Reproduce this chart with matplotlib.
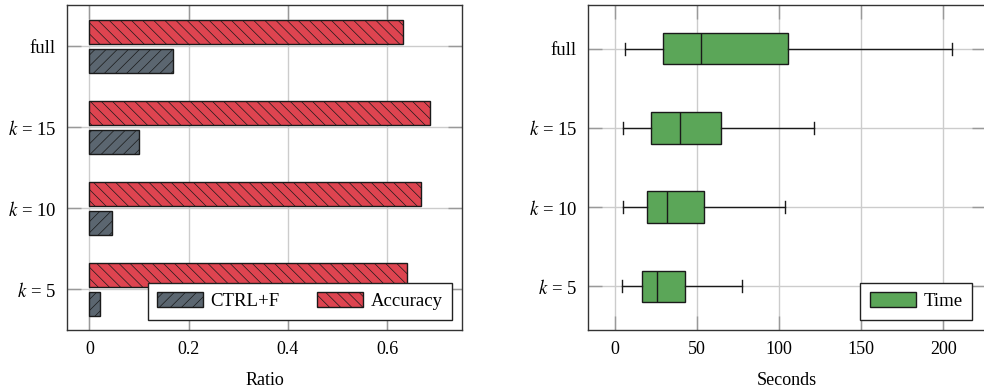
import numpy as np
import matplotlib
matplotlib.use("Agg")
import matplotlib.pyplot as plt
from matplotlib.patches import Patch

plt.rcParams['font.family'] = ['Liberation Serif', 'DejaVu Serif']
plt.rcParams['mathtext.fontset'] = 'stix'
plt.rcParams['font.size'] = 13
plt.rcParams['hatch.linewidth'] = 0.5

# categories bottom -> top
categories = ['$k$ = 5', '$k$ = 10', '$k$ = 15', 'full']

# left panel
ctrlf = [0.021, 0.046, 0.099, 0.169]
accuracy = [0.640, 0.667, 0.685, 0.632]

# right panel: time box stats (seconds)
t_low = [3.9, 4.7, 5.1, 6.1]
t_q1 = [16.5, 19.5, 22.0, 28.9]
t_med = [25.8, 31.9, 39.7, 52.1]
t_q3 = [42.7, 53.9, 64.3, 105.4]
t_high = [77.4, 103.8, 121.1, 205.3]

red = '#de4450'
gray = '#5b6670'
green = '#5ba658'
edge = '#1a1a1a'

fig = plt.figure(figsize=(9.84, 3.9), dpi=100)
ax1 = fig.add_axes([0.0681, 0.1538, 0.4017, 0.8333])
ax2 = fig.add_axes([0.5976, 0.1538, 0.4044, 0.8333])

def style(ax):
    ax.grid(True, color='#cccccc', linewidth=1.0)
    ax.set_axisbelow(True)
    for s in ax.spines.values():
        s.set_color('#333333')
        s.set_linewidth(1.0)
    ax.tick_params(direction='in', length=10, width=1.0, color='#999999',
                   left=True, right=True, top=True, bottom=True, pad=8)
    ax.tick_params(axis='y', labelsize=13.5)

y = np.arange(len(categories))

# left: bars
ax1.barh(y + 0.18, accuracy, height=0.3, color=red, edgecolor=edge,
         hatch='\\\\\\', linewidth=1.0, label='Accuracy')
ax1.barh(y - 0.18, ctrlf, height=0.3, color=gray, edgecolor=edge,
         hatch='///', linewidth=1.0, label='CTRL+F')
ax1.set_xlim(-0.045, 0.751)
ax1.set_ylim(-0.5, 3.51)
ax1.set_xticks([0, 0.2, 0.4, 0.6])
ax1.set_xticklabels(['0', '0.2', '0.4', '0.6'])
ax1.set_yticks(y)
ax1.set_yticklabels(categories)
ax1.set_xlabel('Ratio', labelpad=10)
style(ax1)
h = [Patch(facecolor=gray, edgecolor=edge, hatch='///', label='CTRL+F'),
     Patch(facecolor=red, edgecolor=edge, hatch='\\\\\\', label='Accuracy')]
leg = ax1.legend(handles=h, loc='lower right', ncol=2, fancybox=False,
                 framealpha=1, edgecolor='#222222', handlelength=2.45,
                 handleheight=0.85, handletextpad=0.4, columnspacing=2.0,
                 borderpad=0.5, borderaxespad=0.55, fontsize=13.5)
leg.get_frame().set_linewidth(1.0)

# right: box plot
stats = []
for i in range(len(categories)):
    stats.append(dict(whislo=t_low[i], q1=t_q1[i], med=t_med[i],
                      q3=t_q3[i], whishi=t_high[i], fliers=[]))
ax2.bxp(stats, positions=y, widths=0.4, orientation='horizontal',
        patch_artist=True, showfliers=False, capwidths=0.15,
        boxprops=dict(facecolor=green, edgecolor=edge, linewidth=1.0),
        medianprops=dict(color=edge, linewidth=1.0),
        whiskerprops=dict(color=edge, linewidth=1.0),
        capprops=dict(color=edge, linewidth=1.0))
ax2.set_xlim(-16.5, 226)
ax2.set_ylim(-0.55, 3.55)
ax2.set_xticks([0, 50, 100, 150, 200])
ax2.set_xticklabels(['0', '50', '100', '150', '200'])
ax2.set_yticks(y)
ax2.set_yticklabels(categories)
ax2.set_xlabel('Seconds', labelpad=10)
style(ax2)
leg2 = ax2.legend(handles=[Patch(facecolor=green, edgecolor=edge, label='Time')],
                  loc='lower right', fancybox=False, framealpha=1,
                  edgecolor='#222222', handlelength=2.45, handleheight=0.85,
                  handletextpad=0.4, borderpad=0.5, borderaxespad=0.55,
                  fontsize=13.5, bbox_to_anchor=(0.99, 0.0))
leg2.get_frame().set_linewidth(1.0)

fig.savefig('out.png', dpi=100)
